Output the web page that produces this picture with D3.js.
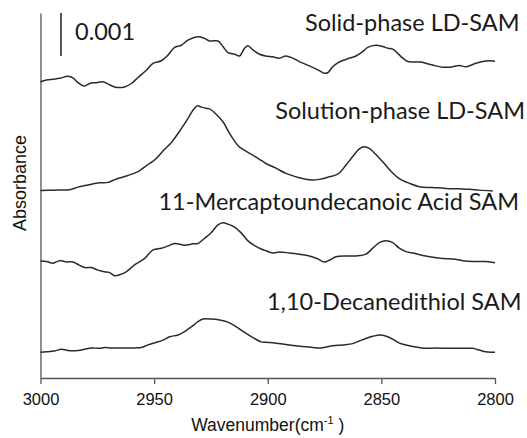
<!DOCTYPE html>
<html>
<head>
<meta charset="utf-8">
<script src="https://cdn.jsdelivr.net/npm/d3@7/dist/d3.min.js"></script>
<style>
  html, body { margin: 0; padding: 0; background: #ffffff; }
  svg { display: block; }
</style>
</head>
<body>
<svg id="chart" width="527" height="438"></svg>
<script>
// Wavenumber axis (cm^-1), drawn high to low as usual for IR spectra
const wavenumberDomain = [3000, 2800];
const wavenumberTicks = [3000, 2950, 2900, 2850, 2800];

// Absorbance in units of 10^-3 (stacked traces, each with its own offset)
const absorbanceDomain = [0, 8.49];
const scaleBarAbsorbance = 0.001;
const scaleBarLabel = "0.001";

const seriesNames = [
  "Solid-phase LD-SAM",
  "Solution-phase LD-SAM",
  "11-Mercaptoundecanoic Acid SAM",
  "1,10-Decanedithiol SAM"
];

// [wavenumber, absorbance x 1e3]
const solidPhase = [
  [3000,6.89],[2997.4,6.93],[2994.5,6.95],[2991.6,6.97],[2987.9,7.02],[2985.7,6.98],[2983.5,6.87],
  [2980.9,6.79],[2978.4,6.85],[2975.4,6.87],[2972.5,6.89],[2970.3,6.84],[2967.4,6.77],[2963.0,6.77],
  [2960.0,6.85],[2957.1,6.99],[2953.4,7.16],[2950.5,7.32],[2946.8,7.38],[2943.9,7.51],[2941.0,7.69],
  [2938.0,7.74],[2935.1,7.86],[2930.7,7.94],[2927.8,7.90],[2925.6,7.84],[2921.9,7.84],[2919.7,7.71],
  [2917.5,7.57],[2914.6,7.53],[2912.4,7.49],[2910.2,7.67],[2908.7,7.73],[2906.5,7.63],[2903.6,7.53],
  [2901.0,7.49],[2897.8,7.47],[2894.9,7.44],[2892.0,7.49],[2889.0,7.44],[2886.1,7.36],[2881.7,7.26],
  [2877.3,7.15],[2875.1,7.09],[2873.6,7.10],[2871.4,7.24],[2869.2,7.33],[2865.6,7.41],[2861.2,7.49],
  [2858.2,7.59],[2856.0,7.69],[2852.4,7.74],[2849.4,7.71],[2847.2,7.67],[2845.0,7.65],[2842.8,7.55],
  [2840.6,7.44],[2838.4,7.36],[2835.5,7.35],[2832.6,7.35],[2828.9,7.30],[2826.0,7.26],[2823.0,7.23],
  [2819.4,7.23],[2815.7,7.27],[2812.8,7.24],[2808.4,7.32],[2805.4,7.36],[2802.5,7.38],[2800.0,7.37]
];

const solutionPhase = [
  [3000,4.36],[2993.8,4.37],[2987.2,4.38],[2983.5,4.44],[2979.1,4.49],[2974.0,4.54],[2970.3,4.55],
  [2966.6,4.63],[2961.5,4.71],[2957.1,4.80],[2953.4,4.94],[2949.8,5.07],[2946.1,5.28],[2942.4,5.48],
  [2938.8,5.74],[2935.1,6.04],[2932.9,6.23],[2931.0,6.33],[2929.2,6.30],[2927.0,6.27],[2925.6,6.26],
  [2922.6,6.13],[2919.7,5.96],[2916.8,5.69],[2914.6,5.51],[2912.4,5.37],[2908.7,5.25],[2904.3,5.11],
  [2900.8,4.99],[2896.4,4.88],[2892.0,4.76],[2886.1,4.66],[2881.7,4.61],[2877.3,4.62],[2872.9,4.68],
  [2869.2,4.74],[2865.6,4.95],[2862.6,5.15],[2859.7,5.33],[2857.5,5.38],[2855.3,5.34],[2852.4,5.20],
  [2849.4,5.03],[2845.8,4.81],[2842.1,4.64],[2837.7,4.53],[2833.3,4.45],[2827.4,4.43],[2821.6,4.41],
  [2815.7,4.40],[2811.3,4.39],[2806.9,4.37],[2801.0,4.35]
];

const mercaptoAcid = [
  [3000,2.72],[2997.4,2.71],[2994.5,2.67],[2991.6,2.73],[2988.6,2.70],[2985.7,2.70],[2983.5,2.64],
  [2980.6,2.57],[2977.6,2.57],[2974.7,2.51],[2971.8,2.47],[2969.6,2.45],[2967.4,2.38],[2965.2,2.40],
  [2962.3,2.47],[2958.6,2.63],[2954.2,2.78],[2950.5,2.98],[2946.8,3.02],[2943.9,3.07],[2941.0,3.13],
  [2936.6,3.09],[2932.9,3.12],[2930.7,3.13],[2927.8,3.25],[2924.9,3.38],[2921.9,3.56],[2919.7,3.61],
  [2917.5,3.58],[2914.6,3.51],[2911.6,3.37],[2908.7,3.19],[2905.8,3.08],[2902.9,3.00],[2900.8,2.96],
  [2897.8,2.91],[2894.9,2.93],[2890.5,2.91],[2886.1,2.88],[2881.7,2.84],[2878.0,2.77],[2875.1,2.70],
  [2872.9,2.74],[2870.0,2.82],[2865.6,2.84],[2861.2,2.84],[2856.8,2.88],[2853.8,3.02],[2850.9,3.15],
  [2848.0,3.19],[2845.0,3.15],[2842.1,3.02],[2839.2,2.94],[2835.5,2.90],[2831.8,2.85],[2827.4,2.81],
  [2823.0,2.78],[2818.6,2.77],[2814.2,2.73],[2809.8,2.71],[2804.0,2.71],[2800.0,2.68]
];

const decanedithiol = [
  [3000,0.60],[2997.4,0.61],[2993.8,0.63],[2990.8,0.67],[2987.9,0.64],[2983.5,0.64],[2980.6,0.67],
  [2977.6,0.70],[2974.0,0.69],[2971.8,0.71],[2968.8,0.70],[2963.0,0.70],[2958.6,0.70],[2955.6,0.71],
  [2952.7,0.77],[2949.0,0.83],[2946.1,0.88],[2943.2,0.96],[2939.5,1.00],[2936.6,1.08],[2933.6,1.19],
  [2930.7,1.31],[2928.5,1.37],[2924.9,1.37],[2921.2,1.35],[2917.5,1.30],[2913.8,1.19],[2910.2,1.06],
  [2906.5,0.94],[2902.9,0.84],[2900.8,0.83],[2896.4,0.81],[2892.0,0.78],[2887.6,0.75],[2881.7,0.72],
  [2876.6,0.70],[2871.4,0.75],[2867.0,0.77],[2862.6,0.80],[2859.7,0.86],[2856.8,0.92],[2853.8,0.97],
  [2850.2,1.00],[2847.2,0.96],[2844.3,0.88],[2842.1,0.81],[2839.2,0.77],[2834.8,0.72],[2830.4,0.69],
  [2826.0,0.70],[2821.6,0.69],[2817.2,0.69],[2812.8,0.69],[2809.8,0.69],[2806.9,0.65],[2804.0,0.61],
  [2800.0,0.60]
];

const seriesValues = [solidPhase, solutionPhase, mercaptoAcid, decanedithiol];

// ---- layout ----
const margin = { left: 40.5, right: 32, top: 13, bottom: 60 };
const W = 527, H = 438;
const plotBottom = H - margin.bottom;

const x = d3.scaleLinear().domain(wavenumberDomain).range([margin.left, W - margin.right]);
const y = d3.scaleLinear().domain(absorbanceDomain).range([plotBottom, margin.top]);

const svg = d3.select("#chart");
const ink = "#2b2b2b";
const axisInk = "#555555";
const labelFont = "Lato, 'Open Sans', sans-serif";
const axisFont = "'Liberation Sans', Arial, sans-serif";

// x axis with downward ticks
const xAxis = svg.append("g")
  .attr("transform", `translate(0,${plotBottom})`)
  .call(d3.axisBottom(x).tickValues(wavenumberTicks).tickSize(6).tickSizeOuter(0).tickPadding(9)
    .tickFormat(d3.format("d")));
xAxis.select(".domain").attr("stroke", axisInk).attr("stroke-width", 1.3);
xAxis.selectAll(".tick line").attr("stroke", axisInk).attr("stroke-width", 1.3);
xAxis.selectAll(".tick text")
  .attr("fill", "#111").style("font-family", axisFont).style("font-size", "16.5px");

// y axis: bare line, no ticks
const yAxis = svg.append("g")
  .attr("transform", `translate(${margin.left},0)`)
  .call(d3.axisLeft(y).tickValues([]).tickSizeOuter(0));
yAxis.select(".domain").attr("stroke", axisInk).attr("stroke-width", 1.3);

// axis titles
const xTitle = svg.append("text")
  .attr("x", (x.range()[0] + x.range()[1]) / 2)
  .attr("y", 431)
  .attr("text-anchor", "middle")
  .attr("fill", "#111")
  .style("font-family", axisFont).style("font-size", "17.5px");
xTitle.append("tspan").text("Wavenumber(cm");
xTitle.append("tspan").attr("dy", -7).style("font-size", "11px").text("-1");
xTitle.append("tspan").attr("dy", 7).text(" )");

svg.append("text")
  .attr("transform", "translate(26,183) rotate(-90)")
  .attr("text-anchor", "middle")
  .attr("fill", "#111")
  .style("font-family", axisFont).style("font-size", "18px")
  .text("Absorbance");

// spectra
const line = d3.line()
  .x(d => x(d[0]))
  .y(d => y(d[1]))
  .curve(d3.curveCatmullRom.alpha(0.5));

svg.append("g").selectAll("path")
  .data(seriesValues)
  .join("path")
  .attr("d", line)
  .attr("fill", "none")
  .attr("stroke", ink)
  .attr("stroke-width", 1.5)
  .attr("stroke-linejoin", "round");

// trace labels (right-aligned above each spectrum)
const labelAnchors = [
  { x: 519.5, y: 31 },
  { x: 525, y: 119 },
  { x: 519, y: 210 },
  { x: 521.5, y: 310 }
];
svg.append("g").selectAll("text")
  .data(seriesNames)
  .join("text")
  .attr("x", (d, i) => labelAnchors[i].x)
  .attr("y", (d, i) => labelAnchors[i].y)
  .attr("text-anchor", "end")
  .attr("fill", "#1a1a1a")
  .style("font-family", labelFont).style("font-size", "23.5px")
  .text(d => d);

// absorbance scale bar
const barTop = absorbanceDomain[1];
const barBottom = barTop - scaleBarAbsorbance * 1000;
const barX = 61;
svg.append("line")
  .attr("x1", barX).attr("x2", barX)
  .attr("y1", y(barTop)).attr("y2", y(barBottom))
  .attr("stroke", ink).attr("stroke-width", 1.6);
svg.append("text")
  .attr("x", 75).attr("y", 39.5)
  .attr("fill", "#1a1a1a")
  .style("font-family", labelFont).style("font-size", "23.5px")
  .text(scaleBarLabel);
</script>
</body>
</html>
